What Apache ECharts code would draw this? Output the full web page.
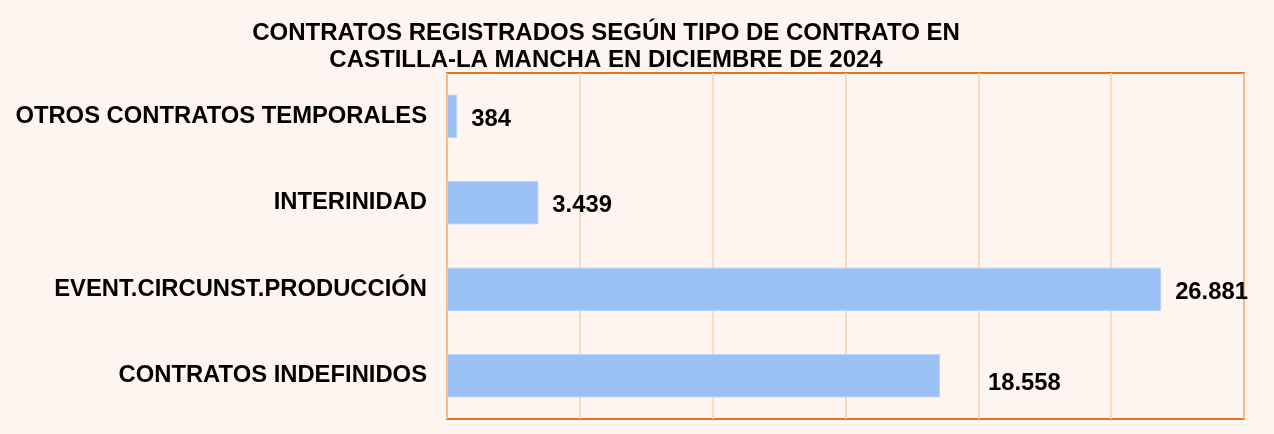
<!DOCTYPE html>
<html><head><meta charset="utf-8">
<script src="https://cdn.jsdelivr.net/npm/echarts@6/dist/echarts.min.js"></script>
<style>html,body{margin:0;padding:0;background:#FEF5F0}#c{width:1274px;height:434px}</style>
</head><body><div id="c"></div>
<script>
const categories = ['CONTRATOS INDEFINIDOS','EVENT.CIRCUNST.PRODUCCIÓN','INTERINIDAD','OTROS CONTRATOS TEMPORALES'];
const values = [18558, 26881, 3439, 384];
const axisMax = 30000;
const axisInterval = 5000;
const fmt = v => v.toLocaleString('de-DE');
const chart = echarts.init(document.getElementById('c'));
const data = values.map((v,i)=> i===0 ? {value:v, label:{distance:48, offset:[0,8]}} : {value:v});
chart.setOption({
  backgroundColor:'#FEF5F0',
  animation:false,
  title:{text:'CONTRATOS REGISTRADOS SEGÚN TIPO DE CONTRATO EN\nCASTILLA-LA MANCHA EN DICIEMBRE DE 2024',
    left:601, top:15, textAlign:'center',
    textStyle:{fontFamily:'Liberation Sans',fontWeight:'bold',fontSize:24,color:'#000',lineHeight:27}},
  grid:{left:447,top:73,right:30,bottom:15,show:true,borderColor:'#E8731E',borderWidth:2,backgroundColor:'transparent'},
  xAxis:{type:'value',min:0,max:axisMax,interval:axisInterval,
    axisLabel:{show:false},axisTick:{show:false},axisLine:{show:false},
    splitLine:{lineStyle:{color:'#F9D2B2',width:1.5}}},
  yAxis:{type:'category',data:categories,
    axisLine:{show:false},axisTick:{show:false},
    axisLabel:{margin:20,fontFamily:'Liberation Sans',fontWeight:'bold',fontSize:23.8,color:'#000'}},
  series:[{type:'bar',data:data,barWidth:'50%',
    itemStyle:{color:'#9BC0F3',borderColor:'#B8D3F6',borderWidth:1},
    label:{show:true,position:'right',distance:14,offset:[0,3],formatter:p=>fmt(p.value),
      fontFamily:'Liberation Sans',fontWeight:'bold',fontSize:23.8,color:'#000'}}]
});
</script></body></html>
